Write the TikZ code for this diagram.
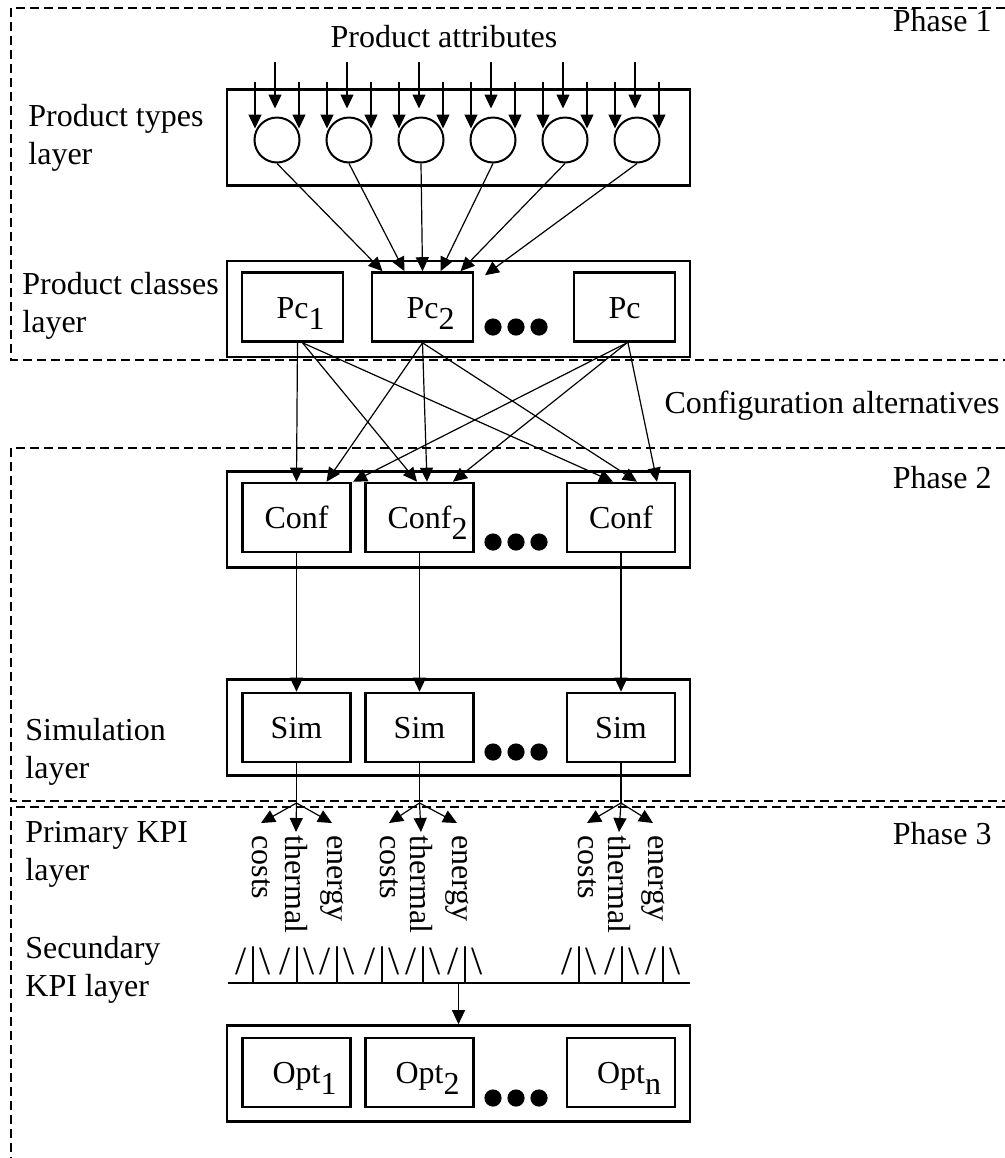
\documentclass[tikz,border=0pt]{standalone}
\usepackage{fontspec}
\setmainfont{Liberation Serif}
\usetikzlibrary{arrows.meta}
\newcommand{\lowidx}[1]{\rlap{\smash{\raisebox{-5.5pt}{#1}}}}
\begin{document}
\begin{tikzpicture}[x=0.5pt,y=-0.5pt,
	font=\fontsize{16}{19}\selectfont,
	>={Triangle[length=7pt,width=6.5pt]},
	layerbox/.style={draw,line width=1.3pt,minimum width=231.5pt,minimum height=48pt},
	unitbox/.style={draw,line width=1.3pt,minimum width=54pt,minimum height=34.5pt,text height=11pt,text depth=0pt,inner sep=0pt},
	typenode/.style={circle,draw,line width=1pt,minimum size=22.5pt,inner sep=0pt},
	phaseline/.style={dash pattern=on 4.5pt off 2.5pt,line width=1pt},
	conn/.style={->,line width=0.6pt},
	sidelabel/.style={align=left,anchor=west,inner sep=0pt},
	tag/.style={anchor=base east,inner sep=0pt},
	kpilabel/.style={rotate=-90,anchor=west,inner sep=0pt},
	glyph/.style={anchor=base,inner sep=0pt,font=\fontsize{20}{24}\selectfont}]
	\useasboundingbox (0,0) rectangle (1005,1158);
	\draw[phaseline] (1005,8) -- (11,8) -- (11,360) -- (1005,360);
	\draw[phaseline] (1005,448) -- (11,448) -- (11,801) -- (1005,801);
	\draw[phaseline] (1005,807) -- (11,807) -- (11,1158);
	\node[tag] (ph1) at (992,31) {Phase 1};
	\node[tag] (ph2) at (992,488) {Phase 2};
	\node[tag] (ph3) at (992,844) {Phase 3};
	\node[tag] (alt) at (1000,413) {Configuration alternatives};
	\node[anchor=base,inner sep=0pt] (attr) at (444,47) {Product attributes};
	\node[sidelabel] (typeslbl) at (28,138) {Product types\\layer};
	\node[sidelabel] (classlbl) at (22,306) {Product classes\\layer};
	\node[sidelabel] (simlbl) at (25,752) {Simulation\\layer};
	\node[sidelabel] (prilbl) at (25,854) {Primary KPI\\layer};
	\node[sidelabel] (seclbl) at (25,970) {Secundary\\KPI layer};
	\node[layerbox] (types) at (458.5,137.5) {};
	\node[layerbox] (classes) at (458.5,309) {};
	\node[layerbox] (confs) at (458.5,519.5) {};
	\node[layerbox] (sims) at (458.5,727.5) {};
	\node[layerbox] (opts) at (458.5,1073.5) {};
	\foreach \i in {1,...,6} {
		\node[typenode] (t\i) at (205+72*\i,140) {};
		\draw[conn] ([shift={(-2,-55)}]t\i.north) -- ([shift={(-2,-8)}]t\i.north);
		\draw[conn] ([shift={(-22,-35)}]t\i.north) -- ([shift={(-22,12)}]t\i.north);
		\draw[conn] ([shift={(22,-35)}]t\i.north) -- ([shift={(22,12)}]t\i.north);
	}
	\node[unitbox,minimum width=50.5pt] (pc1) at (292.5,307) {Pc\lowidx{1}};
	\node[unitbox,minimum width=50.5pt] (pc2) at (422.5,307) {Pc\lowidx{2}};
	\node[unitbox,minimum width=50.5pt] (pc3) at (624.5,307) {Pc};
	\node[unitbox] (conf1) at (296.5,517.5) {Conf};
	\node[unitbox] (conf2) at (419.5,517.5) {Conf\lowidx{2}};
	\node[unitbox] (conf3) at (621,517.5) {Conf};
	\node[unitbox] (sim1) at (296.5,727.5) {Sim};
	\node[unitbox] (sim2) at (419.5,727.5) {Sim};
	\node[unitbox] (sim3) at (621,727.5) {Sim};
	\node[unitbox] (opt1) at (296.5,1072.5) {Opt\lowidx{1}};
	\node[unitbox] (opt2) at (419.5,1072.5) {Opt\lowidx{2}};
	\node[unitbox] (opt3) at (621,1072.5) {Opt\lowidx{n}};
	\foreach \y in {327,542,752,1098}
	\foreach \x in {493,516,539}
	\fill (\x,\y) circle[radius=4.3pt];
	\foreach \i/\dx/\dy in {1/-40/0,2/-18/0,3/0/0,4/18/0,5/38/0,6/62.5/4}
	\draw[conn] (t\i.south) -- ([shift={(\dx,\dy)}]pc2.north);
	\foreach \s/\sx/\t/\tx in {pc1/5/conf1/0,pc1/10/conf2/-2.5,pc1/10/conf3/-8,pc2/0/conf1/30,pc2/0/conf2/7.5,pc2/0/conf3/16,pc3/2.5/conf1/56.5,pc3/2.5/conf2/33.5,pc3/3.5/conf3/36}
	\draw[conn] ([shift={(\sx,0)}]\s.south) -- ([shift={(\tx,0)}]\t.north);
	\foreach \i in {1,2,3}
	\draw[conn] (conf\i.south) -- (sim\i.north);
	\foreach \i/\c/\th/\e in {1/261/296/332,2/389/421/457,3/587/619/653} {
		\coordinate (b\i) at (sim\i.south |- 0,803);
		\draw[line width=0.6pt] (sim\i.south) -- (b\i);
		\node[kpilabel] (cost\i) at (\c,835) {costs};
		\node[kpilabel] (therm\i) at (\th,835) {thermal};
		\node[kpilabel] (energy\i) at (\e,835) {energy};
		\draw[conn] (b\i) -- ([yshift=6pt]cost\i.west);
		\draw[conn] (b\i) -- ([yshift=1.5pt]therm\i.west);
		\draw[conn] (b\i) -- ([yshift=6pt]energy\i.west);
	}
	\foreach \x [count=\k] in {253,297,337,382,423,465,579,622,663}
	\node[glyph] (sec\k) at (\x,974) {/\kern1.3pt\textbar\kern1.3pt\textbackslash};
	\coordinate (kl) at (228,983);
	\coordinate (kr) at (690,983);
	\draw[line width=0.6pt] (kl) -- (kr);
	\coordinate (kout) at (opts.north |- kl);
	\draw[conn] (kout) -- (opts.north);
\end{tikzpicture}
\end{document}
